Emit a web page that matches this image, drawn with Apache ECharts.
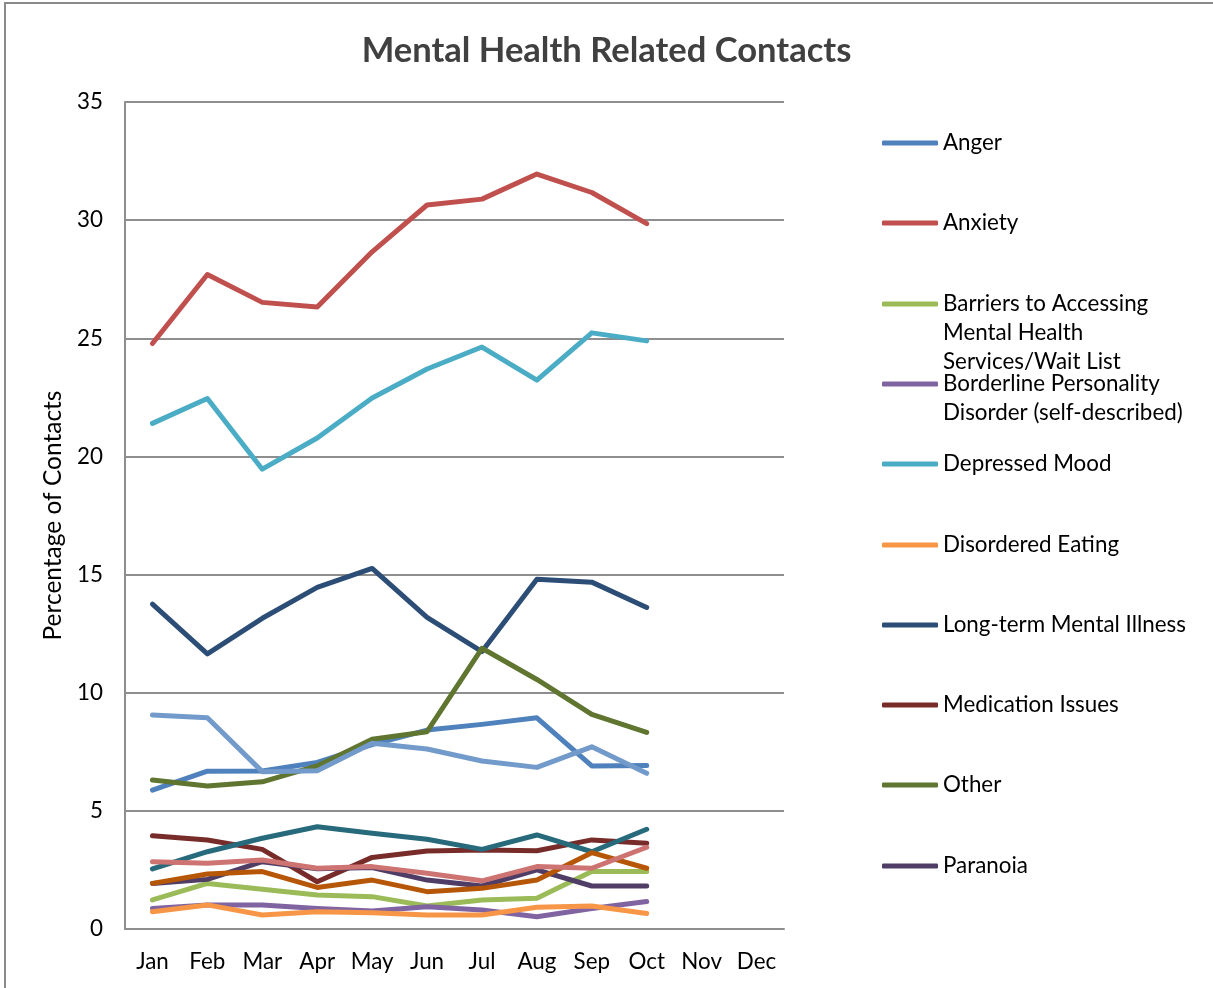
<!DOCTYPE html>
<html>
<head>
<meta charset="utf-8">
<script src="https://cdn.jsdelivr.net/npm/echarts@6/dist/echarts.min.js"></script>
<style>
html,body{margin:0;padding:0;background:#fff;}
#chart{width:1213px;height:988px;}
</style>
</head>
<body>
<div id="chart"></div>
<script>
// ---- data ----
const months = ['Jan','Feb','Mar','Apr','May','Jun','Jul','Aug','Sep','Oct','Nov','Dec'];
const yTicks = [0, 5, 10, 15, 20, 25, 30, 35];

const anger       = [5.88, 6.68, 6.69, 7.05, 7.80, 8.42, 8.66, 8.94, 6.90, 6.92];
const anxiety     = [24.78, 27.70, 26.52, 26.32, 28.66, 30.64, 30.89, 31.95, 31.17, 29.85];
const barriers    = [1.23, 1.93, 1.68, 1.44, 1.37, 0.97, 1.23, 1.30, 2.43, 2.43];
const borderline  = [0.87, 1.02, 1.02, 0.87, 0.76, 0.94, 0.80, 0.52, 0.87, 1.16];
const depressed   = [21.40, 22.45, 19.46, 20.78, 22.47, 23.70, 24.63, 23.23, 25.23, 24.89];
const disordered  = [0.73, 1.02, 0.59, 0.73, 0.69, 0.59, 0.59, 0.92, 0.97, 0.66];
const longTerm    = [13.75, 11.64, 13.15, 14.46, 15.26, 13.19, 11.74, 14.80, 14.68, 13.61];
const medication  = [3.95, 3.77, 3.37, 2.00, 3.03, 3.30, 3.34, 3.31, 3.77, 3.63];
const other       = [6.31, 6.05, 6.23, 6.90, 8.03, 8.35, 11.88, 10.56, 9.08, 8.32];
const paranoia    = [1.93, 2.10, 2.85, 2.55, 2.60, 2.07, 1.82, 2.50, 1.82, 1.82];
// series present in the plot but cut off from the legend
const unlisted1   = [2.54, 3.27, 3.84, 4.33, 4.05, 3.80, 3.37, 3.98, 3.27, 4.22];
const unlisted2   = [1.93, 2.33, 2.43, 1.76, 2.07, 1.58, 1.72, 2.07, 3.23, 2.57];
const unlisted3   = [9.06, 8.94, 6.66, 6.70, 7.86, 7.62, 7.11, 6.84, 7.71, 6.59];
const unlisted4   = [2.85, 2.78, 2.92, 2.57, 2.64, 2.36, 2.04, 2.64, 2.57, 3.46];

const seriesNames = [
  'Anger', 'Anxiety', 'Barriers to Accessing\nMental Health\nServices/Wait List',
  'Borderline Personality\nDisorder (self-described)', 'Depressed Mood', 'Disordered Eating',
  'Long-term Mental Illness', 'Medication Issues', 'Other', 'Paranoia',
  'Series 11', 'Series 12', 'Series 13', 'Series 14'
];
const seriesData = [anger, anxiety, barriers, borderline, depressed, disordered,
  longTerm, medication, other, paranoia, unlisted1, unlisted2, unlisted3, unlisted4];
const legendCount = 10;

// ---- styles ----
const colors = ['#4F81BD','#C0504D','#9BBB59','#8064A2','#4BACC6','#F79646',
  '#2C4D75','#772C2A','#5F7530','#4F3D66','#276A7C','#B65708','#729ACA','#CD7371'];
const FAMILY = 'Lato';
function fit(text, weight, target) {
  const c = document.createElement('canvas').getContext('2d');
  c.font = weight + ' 100px ' + FAMILY;
  return 100 * target / c.measureText(text).width;
}
const titleSize = fit('Mental Health Related Contacts', 'bold', 490);
const legendSize = fit('Long-term Mental Illness', 'normal', 243);
const axisNameSize = fit('Percentage of Contacts', 'normal', 250);
const tickSize = legendSize;
const LH = 29;
const legendCenters = [143, 223, 304, 384, 464, 545, 625, 705, 785, 866];

const legends = [];
for (let i = 0; i < legendCount; i++) {
  const lines = seriesNames[i].split('\n').length;
  const extra = lines - 1;              // blank lines on top keep the icon on the first line
  const boxH = (lines + extra) * LH;
  const prefix = '\n'.repeat(extra);
  legends.push({
    data: [seriesNames[i]],
    orient: 'vertical',
    left: 882,
    top: legendCenters[i] - boxH / 2,
    padding: 0,
    icon: 'roundRect',
    itemWidth: 56,
    itemHeight: 5,
    selectedMode: false,
    formatter: function (name) { return prefix + name; },
    textStyle: { fontFamily: FAMILY, fontSize: legendSize, color: '#000', lineHeight: LH }
  });
}

const series = seriesData.map((d, i) => ({
  name: seriesNames[i],
  type: 'line',
  data: d,
  symbol: 'none',
  color: colors[i],
  lineStyle: { width: 5, color: colors[i], cap: 'round', join: 'round' },
  z: 2 + i * 0.01,
  animation: false
}));

const chart = echarts.init(document.getElementById('chart'), null, {renderer: 'canvas'});
chart.setOption({
  animation: false,
  backgroundColor: '#fff',
  title: {
    text: 'Mental Health Related Contacts',
    left: 'center',
    top: 28,
    textStyle: { fontFamily: FAMILY, fontWeight: 'bold', fontSize: titleSize, color: '#404040' }
  },
  graphic: [{
    type: 'rect',
    shape: { x: 5, y: 3, width: 1400, height: 1200 },
    style: { fill: 'none', stroke: '#8A8A8A', lineWidth: 2 },
    silent: true
  }],
  legend: legends,
  grid: { left: 125, right: 429, top: 102, bottom: 59, containLabel: false },
  xAxis: {
    type: 'category',
    data: months,
    boundaryGap: true,
    axisLine: { lineStyle: { color: '#8E8E8E', width: 2 } },
    axisTick: { show: false },
    axisLabel: { interval: 0, fontFamily: FAMILY, fontSize: tickSize, color: '#000', margin: 22 }
  },
  yAxis: {
    type: 'value',
    min: yTicks[0],
    max: yTicks[yTicks.length - 1],
    interval: yTicks[1] - yTicks[0],
    name: 'Percentage of Contacts',
    nameLocation: 'middle',
    nameGap: 60,
    nameTextStyle: { fontFamily: FAMILY, fontSize: axisNameSize, color: '#000' },
    axisLine: { show: true, lineStyle: { color: '#8E8E8E', width: 2 } },
    axisTick: { show: false },
    axisLabel: { fontFamily: FAMILY, fontSize: tickSize, color: '#000', margin: 22 },
    splitLine: { lineStyle: { color: '#8E8E8E', width: 2 } }
  },
  series: series
});
</script>
</body>
</html>
